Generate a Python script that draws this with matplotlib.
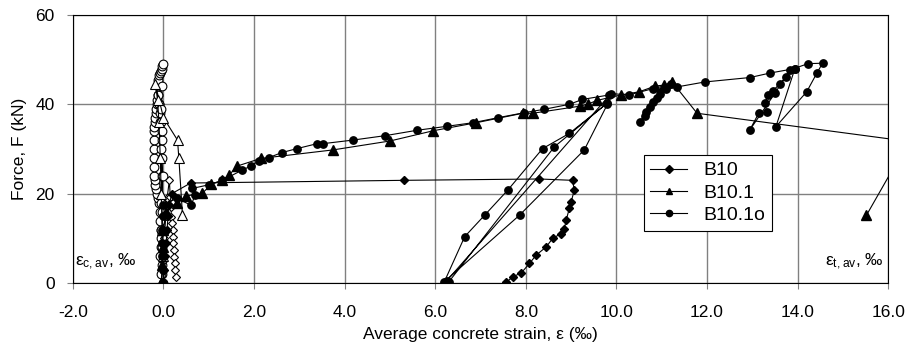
import matplotlib.pyplot as plt
from matplotlib.lines import Line2D

plt.rcParams['font.family'] = ['Liberation Sans', 'DejaVu Sans']

# B10 - tension (filled) and compression (hollow) strain
b10_t_x = [0.0, 0.02, 0.04, 0.06, 0.08, 0.1, 0.13, 0.18, 0.6, 5.3, 8.3, 9.03,
           9.07, 9.0, 8.96, 8.89, 8.85, 8.78, 8.59, 8.45, 8.23, 8.08, 7.9, 7.71, 7.57]
b10_t_f = [0.0, 3.0, 6.0, 9.0, 12.0, 15.0, 17.5, 20.0, 22.4, 23.0, 23.3, 23.0,
           20.8, 18.2, 16.7, 14.1, 12.2, 11.1, 10.0, 8.1, 6.3, 4.4, 2.3, 1.4, 0.2]
b10_c_x = [0.0, 0.0, 0.02, 0.05, 0.08, 0.13, 0.15, 0.17, 0.17, 0.19, 0.2, 0.2,
           0.22, 0.24, 0.24, 0.26, 0.26, 0.28]
b10_c_f = [0.0, 5.0, 10.0, 15.0, 19.0, 23.0, 19.3, 17.1, 14.8, 13.4, 11.9, 10.4,
           8.9, 7.4, 5.9, 4.4, 2.9, 1.4]

# B10.1
b101_t_x = [-0.05, -0.03, -0.02, 0.0, 0.05, 0.3, 0.5, 0.86, 1.05, 1.3, 1.45, 1.63,
            2.15, 3.74, 5.0, 5.96, 6.91, 7.93, 8.15, 9.2, 9.38, 9.58, 10.1, 10.5,
            10.86, 11.05, 11.23, 11.78, 16.45, 15.52]
b101_t_f = [0.0, 4.0, 8.0, 12.0, 16.0, 18.0, 19.5, 20.1, 22.1, 23.0, 24.2, 26.2,
            27.9, 29.8, 31.8, 34.1, 35.9, 38.0, 38.0, 39.6, 40.1, 40.9, 42.1, 42.8,
            44.1, 44.3, 45.0, 38.0, 31.7, 15.2]
b101_c_x = [0.0, -0.02, -0.03, -0.05, -0.07, -0.1, -0.13, -0.18, 0.0, 0.31, 0.34, 0.42]
b101_c_f = [0.0, 6.0, 12.0, 20.0, 28.0, 36.0, 41.0, 44.5, 37.0, 32.0, 27.9, 15.2]

# B10.1o
b101o_t_x = [0.0, -0.02, -0.03, -0.03, -0.03, -0.02, 0.0, 0.3, 0.61, 0.7, 0.64,
             1.0, 1.3, 1.74, 1.93, 2.11, 2.33, 2.61, 2.95, 3.39, 3.52, 4.18, 4.9,
             5.6, 6.27, 6.84, 7.38, 7.95, 8.41, 8.96, 9.25, 9.84, 9.8, 9.29, 7.86,
             6.2, 6.65, 7.09, 7.6, 8.37, 8.96, 9.8, 8.63, 6.3, 6.25, 9.88, 10.28,
             10.8, 11.2, 10.97, 10.8, 10.65, 10.53, 10.62, 10.75, 10.9, 11.1, 11.34,
             11.95, 12.95, 13.39, 13.94, 13.75, 13.6, 13.45, 13.35, 13.28, 13.32,
             13.14, 12.94, 13.5, 13.83, 14.23, 14.55, 14.42, 14.2, 13.52, 13.94]
b101o_t_f = [0.0, 3.0, 6.0, 9.0, 12.0, 15.0, 17.5, 19.0, 17.4, 19.8, 21.2,
             22.0, 23.0, 25.3, 26.2, 27.4, 28.1, 29.2, 30.1, 31.2, 31.2, 32.0, 33.0,
             34.2, 35.1, 35.9, 37.0, 38.1, 38.9, 40.0, 41.1, 42.1, 40.0, 29.8, 15.2,
             0.3, 10.4, 15.2, 20.8, 30.1, 33.5, 40.3, 30.5, 0.3, 0.5, 42.4, 42.1,
             43.5, 44.5, 42.4, 40.5, 38.3, 36.1, 37.5, 39.5, 41.5, 43.5, 43.9,
             45.0, 46.0, 47.0, 48.0, 46.2, 44.5, 43.0, 42.1, 40.2, 38.3,
             38.0, 34.2, 42.5, 47.7, 49.1, 49.2, 46.9, 42.8, 35.0, 48.0]
b101o_c_x = [-0.02, -0.03, -0.04, -0.04, -0.05, -0.05, -0.06, -0.07, -0.08, -0.1,
             -0.12, -0.14, -0.16, -0.18, -0.19, -0.2, -0.21, -0.22, -0.22, -0.21,
             -0.21, -0.2, -0.19, -0.18, -0.17, -0.16, -0.15, -0.14, -0.12, -0.1,
             -0.07, -0.05, -0.04, -0.05, -0.06, -0.07, -0.05, -0.04, -0.03, -0.02,
             -0.04, -0.06, -0.08, -0.1, -0.12, -0.13, -0.12, -0.1, -0.08, -0.06,
             -0.04, -0.03, -0.02, -0.03, -0.05, -0.04, -0.03]
b101o_c_f = [0.0, 2.0, 4.0, 6.0, 8.0, 10.0, 12.0, 14.0, 16.0, 18.0,
             19.0, 20.0, 21.0, 22.0, 23.0, 24.0, 26.0, 28.0, 30.0, 32.0,
             34.0, 35.0, 36.0, 37.0, 38.0, 39.0, 40.0, 41.0, 42.0, 40.0,
             36.0, 30.0, 24.0, 18.0, 12.0, 6.0, 2.0, 8.0, 16.0, 24.0,
             32.0, 36.0, 38.0, 40.0, 42.0, 44.0, 45.5, 46.5, 47.0, 47.5,
             48.0, 48.5, 49.1, 44.0, 39.0, 34.0, 28.0]

x_ticks = [-2.0, 0.0, 2.0, 4.0, 6.0, 8.0, 10.0, 12.0, 14.0, 16.0]
y_ticks = [0, 20, 40, 60]

fig = plt.figure(figsize=(9.11, 3.47), dpi=100)
ax = fig.add_axes([0.080, 0.184, 0.895, 0.773])

lw = 0.8
# hollow (compression) first, then filled (tension)
ax.plot(b101o_c_x, b101o_c_f, color='black', lw=lw, marker='o', ms=6.3,
        mfc='white', mec='black', mew=0.8)
ax.plot(b10_c_x, b10_c_f, color='black', lw=lw, marker='D', ms=4.5,
        mfc='white', mec='black', mew=0.8)
ax.plot(b101_c_x, b101_c_f, color='black', lw=lw, marker='^', ms=6.5,
        mfc='white', mec='black', mew=0.8)
ax.plot(b10_t_x, b10_t_f, color='black', lw=lw, marker='D', ms=4.5)
ax.plot(b101_t_x, b101_t_f, color='black', lw=lw, marker='^', ms=6.5)
ax.plot(b101o_t_x, b101o_t_f, color='black', lw=lw, marker='o', ms=5.3)

ax.set_xlim(-2.0, 16.0)
ax.set_ylim(0, 60)
ax.set_xticks(x_ticks)
ax.set_xticklabels([f"{v:.1f}" for v in x_ticks])
ax.set_yticks(y_ticks)
ax.grid(True, color='#808080', lw=1.0)
ax.set_axisbelow(True)
ax.tick_params(labelsize=12.5, direction='out', length=4, color='#808080')
ax.tick_params(axis='x', pad=12)
ax.tick_params(axis='y', pad=9)
for s in ax.spines.values():
    s.set_color('black')

ax.set_xlabel("Average concrete strain, ε (‰)", fontsize=12.5, labelpad=5)
ax.set_ylabel("Force, F (kN)", fontsize=12.5, labelpad=6)

ax.text(0.003, 0.04, r"$\mathregular{ε_{c,av}}$, ‰", transform=ax.transAxes,
        fontsize=12.5, ha='left', va='bottom')
ax.text(0.995, 0.04, r"$\mathregular{ε_{t,av}}$, ‰", transform=ax.transAxes,
        fontsize=12.5, ha='right', va='bottom')

handles = [
    Line2D([], [], color='black', lw=lw, marker='D', ms=4),
    Line2D([], [], color='black', lw=lw, marker='^', ms=5),
    Line2D([], [], color='black', lw=lw, marker='o', ms=4.5),
]
leg = ax.legend(handles, ["B10", "B10.1", "B10.1o"], loc='upper left',
                bbox_to_anchor=(0.70, 0.478), fontsize=14, frameon=True,
                fancybox=False, framealpha=1, edgecolor='black',
                handlelength=1.9, borderaxespad=0, labelspacing=0.25,
                borderpad=0.35)
leg.get_frame().set_linewidth(0.8)

fig.savefig("out.png", dpi=100)
